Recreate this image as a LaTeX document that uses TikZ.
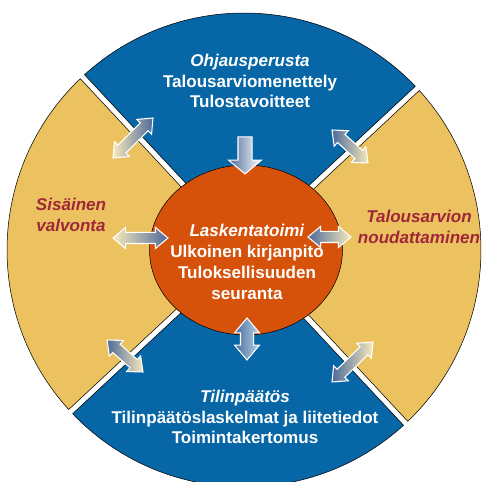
\documentclass[tikz,border=0pt]{standalone}
\usepackage{fontspec}
\setmainfont{Liberation Sans}
\usetikzlibrary{shapes.geometric,shapes.arrows,calc}

\definecolor{ringblue}{RGB}{6,102,166}
\definecolor{ringyellow}{RGB}{235,194,95}
\definecolor{coreorange}{RGB}{214,82,11}
\definecolor{labelred}{RGB}{160,38,58}
\definecolor{arrowblue}{RGB}{78,106,154}
\definecolor{arrowcream}{RGB}{247,234,188}
\definecolor{arrowsky}{RGB}{176,212,234}

\tikzset{
  sectorline/.style={draw=black, line width=0.3pt},
  twoway/.style={double arrow, draw=white, line width=0.6pt, inner xsep=0pt, inner ysep=0.1cm,
    minimum width=0.4cm, double arrow head extend=0.1cm, double arrow tip angle=80},
  oneway/.style={single arrow, draw=white, line width=0.6pt, inner xsep=0pt, inner ysep=0.13cm,
    minimum width=0.64cm, single arrow head extend=0.19cm, single arrow tip angle=100},
  whitelabel/.style={text=white, align=center, font=\bfseries\fontsize{9.7}{11.9}\selectfont},
  redlabel/.style={text=labelred, align=center, font=\bfseries\itshape\fontsize{9.7}{11.9}\selectfont},
}

% ring sector between two diagonals, with a small white gap on both sides
\newcommand\ringsector[2]{%
  \path[sectorline, fill=#2] ($(c)+(#1+45:4.2)$) -- ($(c)+(#1+0.7:237)$)
    arc[start angle=#1+0.7, end angle=#1+89.3, radius=237] -- cycle;}

% block arrow from one named point to another: style, from, to, colour at from, colour at to, name
\newcommand\linkarrow[6]{%
  \path let \p1=(#2), \p2=(#3), \n1={atan2(\y2-\y1,\x2-\x1)}, \n2={veclen(\x2-\x1,\y2-\y1)} in
    node[#1, minimum height=\n2, rotate=\n1, left color=#4, right color=#5] (#6) at ($(#2)!0.5!(#3)$) {};}

\begin{document}
\begin{tikzpicture}[x=0.02cm, y=0.02cm]
\useasboundingbox (0,0) rectangle (481,482);
\clip (0,0) rectangle (481,482);

\coordinate (c) at (244,232);

% the four sectors of the ring
\ringsector{43}{ringblue}
\ringsector{133}{ringyellow}
\ringsector{223}{ringblue}
\ringsector{313}{ringyellow}

% centre
\node[ellipse, draw=black, line width=0.3pt, fill=coreorange, inner sep=0pt,
  minimum width=3.86cm, minimum height=3.4cm] (core) at (246,232) {};

% texts
\node[whitelabel] (ohjaus) at (250,401) {\textit{Ohjausperusta}\\Talousarviomenettely\\Tulostavoitteet};
\node[whitelabel] (laskenta) at (247,220) {\textit{Laskentatoimi}\\Ulkoinen kirjanpito\\Tuloksellisuuden\\seuranta};
\node[whitelabel] (tilinpaatos) at (245,65) {\textit{Tilinpäätös}\\Tilinpäätöslaskelmat ja liitetiedot\\Toimintakertomus};
\node[redlabel] (sisainen) at (71,267) {Sisäinen\\valvonta};
\node[redlabel] (talous) at (419,255) {Talousarvion\\noudattaminen};

% arrow end points
\coordinate (tlA) at (113,324); \coordinate (tlB) at (153,364);
\coordinate (trA) at (332,352); \coordinate (trB) at (368,319);
\coordinate (blA) at (107,142); \coordinate (blB) at (143,110);
\coordinate (brA) at (332,100); \coordinate (brB) at (373,140);
\coordinate (lA) at (113,244); \coordinate (lB) at (168,244);
\coordinate (rA) at (308,245); \coordinate (rB) at (351,245);
\coordinate (tA) at (245,348); \coordinate (tB) at (245,311);
\coordinate (bA) at (247,122); \coordinate (bB) at (247,164);

% arrows
\linkarrow{twoway}{tlA}{tlB}{arrowcream}{arrowblue}{tlarrow}
\linkarrow{twoway}{trA}{trB}{arrowblue}{arrowcream}{trarrow}
\linkarrow{twoway}{blA}{blB}{arrowblue}{arrowcream}{blarrow}
\linkarrow{twoway}{brA}{brB}{arrowblue}{arrowcream}{brarrow}
\linkarrow{twoway}{lA}{lB}{arrowcream}{arrowblue}{larrow}
\linkarrow{twoway}{rA}{rB}{arrowblue}{arrowcream}{rarrow}
\linkarrow{oneway}{tA}{tB}{arrowblue}{white}{tarrow}
\linkarrow{twoway, inner ysep=0.12cm, minimum width=0.48cm, double arrow head extend=0.12cm}{bA}{bB}{arrowblue}{arrowsky}{barrow}
\end{tikzpicture}
\end{document}
